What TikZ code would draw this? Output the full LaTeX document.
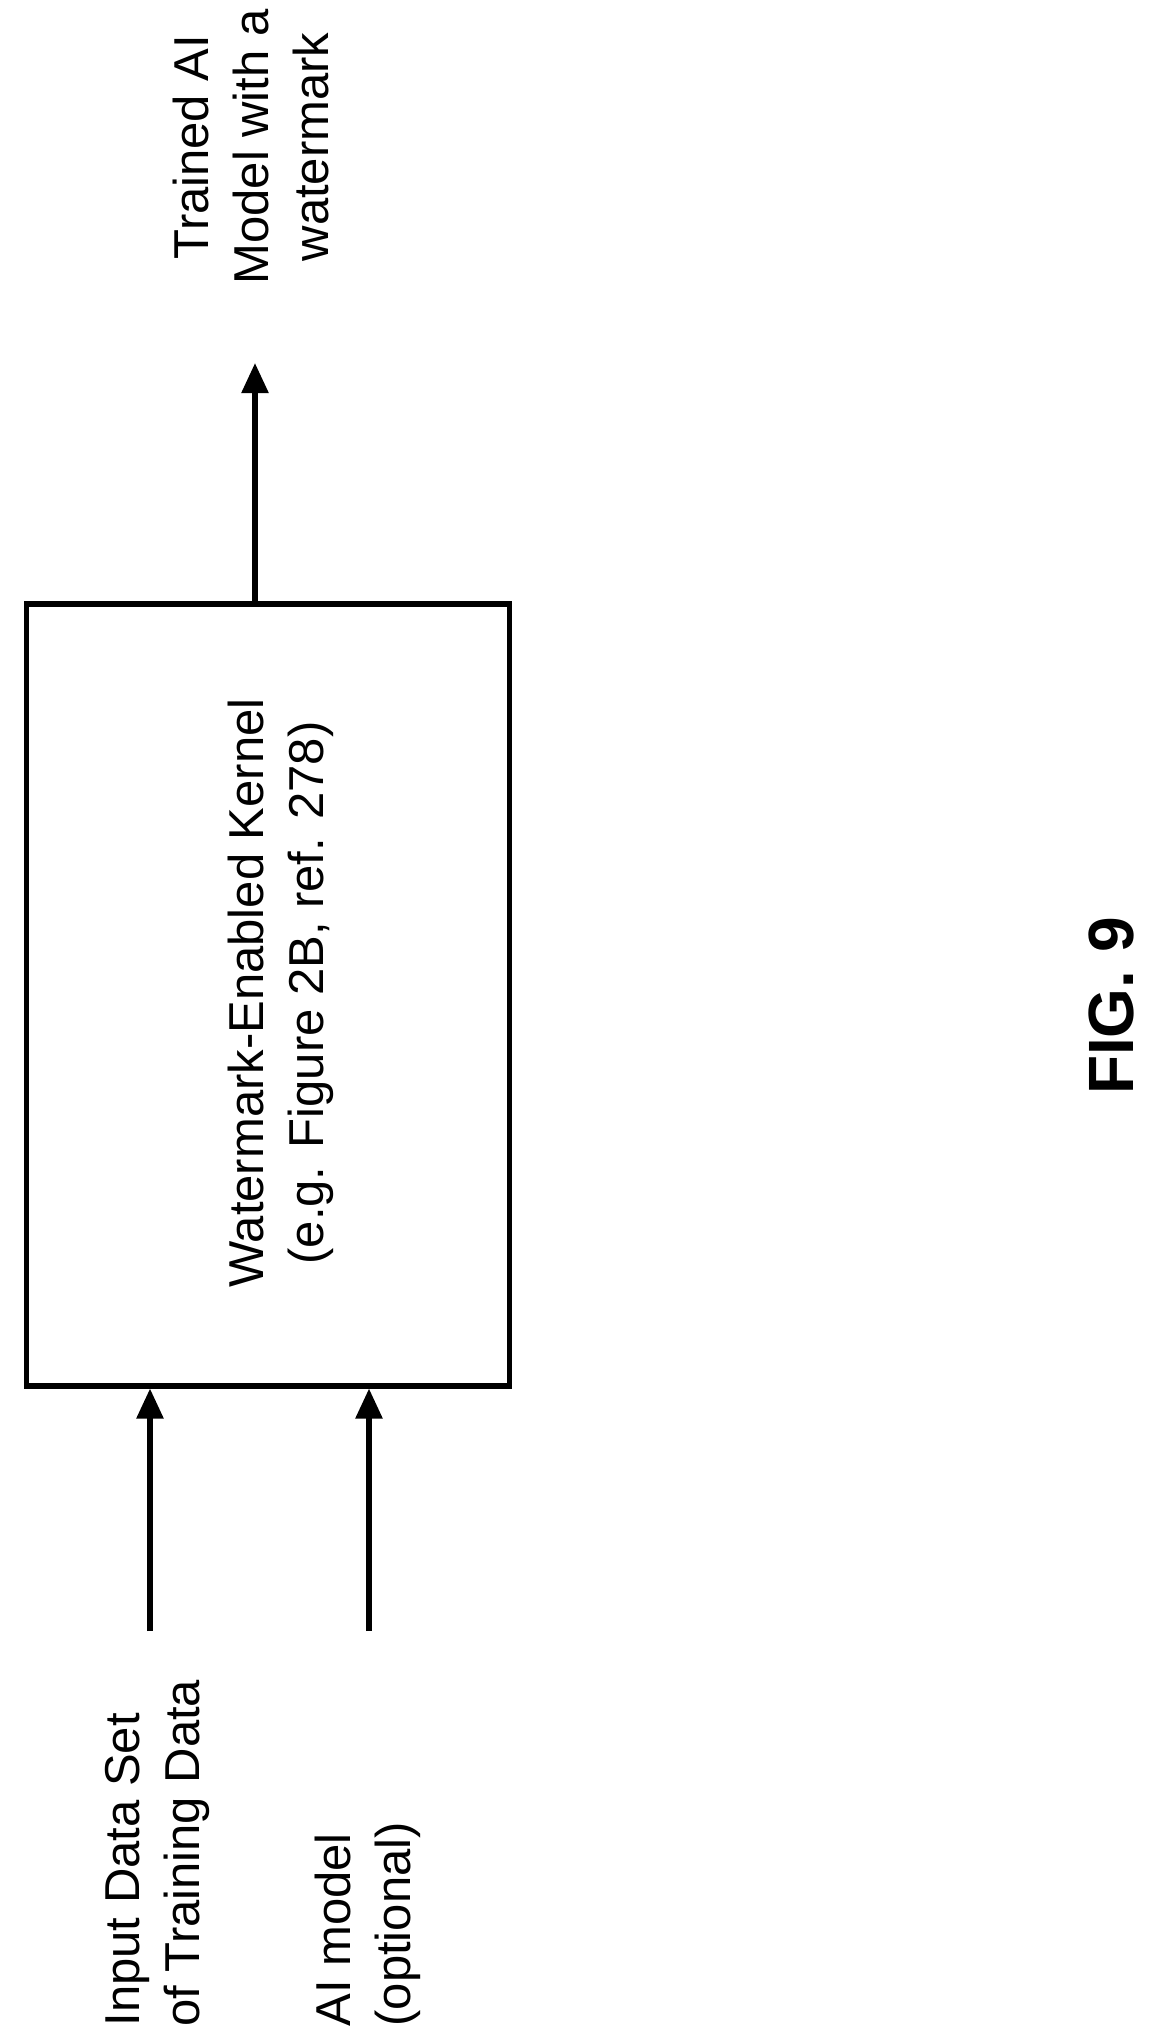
\documentclass[tikz,border=0pt]{standalone}
\usepackage{fontspec}
\setmainfont{Liberation Sans}
\usetikzlibrary{arrows.meta}
\begin{document}
\begin{tikzpicture}[x=1pt,y=-1pt,
  lbl/.style={rotate=90,font=\fontsize{49}{60}\selectfont,align=center},
  arr/.style={line width=5.5pt,-{Triangle[length=30pt,width=26pt]}}]
\useasboundingbox (0,0) rectangle (1150,2036);
\node[draw,line width=5.5pt,minimum width=483pt,minimum height=782pt,anchor=north west] (k) at (23.5,601) {};
\node[lbl] (kt) at (281,993) {Watermark-Enabled Kernel\\(e.g. Figure 2B, ref. 278)};
\coordinate (o) at (255,363);
\draw[arr] (k.north west -| o) -- (o);
\node[lbl] (out) at (251,147) {Trained AI\\Model with a\\watermark};
\coordinate (i1) at (150,1631);
\coordinate (i2) at (369,1631);
\draw[arr] (i1) -- (i1 |- k.south);
\draw[arr] (i2) -- (i2 |- k.south);
\node[lbl,anchor=west,align=left] (in1) at (157,2030) {Input Data Set\\of Training Data};
\node[lbl,anchor=west,align=left] (in2) at (368,2030) {AI model\\(optional)};
\node[rotate=90,font=\fontsize{64}{72}\selectfont\bfseries] (fig) at (1111,1006) {FIG. 9};
\end{tikzpicture}
\end{document}
